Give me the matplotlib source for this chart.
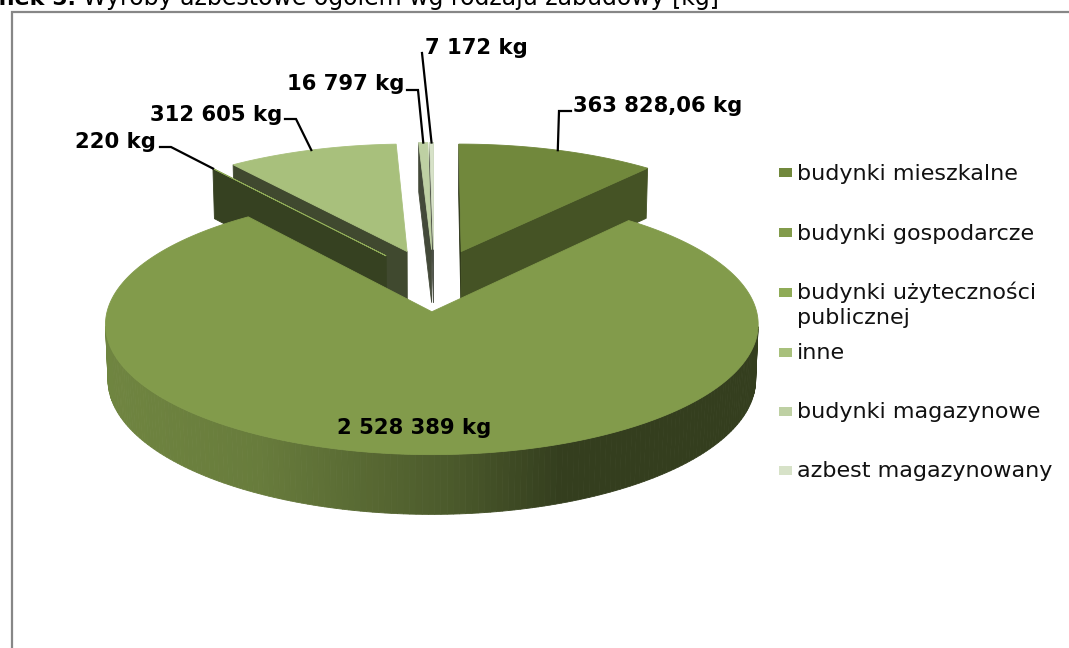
import numpy as np
import matplotlib.pyplot as plt
from matplotlib.patches import Polygon, Rectangle

# dane
categories = ['budynki mieszkalne', 'budynki gospodarcze',
              'budynki użyteczności\npublicznej', 'inne',
              'budynki magazynowe', 'azbest magazynowany']
values = [363828.06, 2528389, 220, 312605, 16797, 7172]
value_labels = ['363 828,06 kg', '2 528 389 kg', '220 kg',
                '312 605 kg', '16 797 kg', '7 172 kg']
colors = ['#71883C', '#829B4B', '#8FAB57', '#A8C07C', '#BED0A3', '#D7E2C8']

# geometria wykresu 3D (piksele)
CX, CY = 434, 280
R = 317.0
H = 59.0
EXPLODE = 80.0
phi = np.radians(22.8)
ce, se = np.cos(phi), np.sin(phi)
DIST = 3073.0
cam = np.array([0.0, -DIST * ce, DIST * se])


def proj(X, Y, Z):
    w = Y * ce - Z * se
    v = Y * se + Z * ce
    s = DIST / (DIST + w)
    return CX + X * s, CY - v * s


def to_rgb(c):
    c = c.lstrip('#')
    return np.array([int(c[i:i + 2], 16) for i in (0, 2, 4)]) / 255.0


def wall_shade(x):
    # gradient excela na scianie bocznej: jasno z lewej, ciemno z prawej
    return np.interp(x, [100, 260, 450, 560, 760], [0.86, 0.80, 0.58, 0.40, 0.40])


fig = plt.figure(figsize=(10.69, 6.48), dpi=100)
ax = fig.add_axes([0, 0, 1, 1])
ax.set_xlim(0, 1069)
ax.set_ylim(648, 0)
ax.axis('off')

total = sum(values)
angles = np.cumsum([0] + [v / total * 360 for v in values])

sides = []   # (glebokosc, punkty, kolor)
tops = []
anchors = []
for i, v in enumerate(values):
    a0, a1 = angles[i], angles[i + 1]
    mid = np.radians((a0 + a1) / 2)
    ox, oy = EXPLODE * np.sin(mid), EXPLODE * np.cos(mid)
    base = to_rgb(colors[i])
    n = max(2, int(np.ceil(a1 - a0)) + 1)
    th = np.radians(np.linspace(a0, a1, n))
    rx = ox + R * np.sin(th)
    ry = oy + R * np.cos(th)

    # wierzch
    pts = [proj(ox, oy, 0)] + [proj(x, y, 0) for x, y in zip(rx, ry)]
    depth = np.mean([np.linalg.norm(cam - np.array([x, y, 0])) for x, y in zip(rx, ry)])
    tops.append((depth, pts, base))

    # sciany promieniowe
    for ang, sign in ((a0, -1), (a1, 1)):
        t = np.radians(ang)
        nrm = np.array([np.sin(t + sign * np.pi / 2), np.cos(t + sign * np.pi / 2), 0])
        ex, ey = ox + R * np.sin(t), oy + R * np.cos(t)
        c3 = np.array([(ox + ex) / 2, (oy + ey) / 2, -H / 2])
        if np.dot(nrm, cam - c3) > 0:
            nang = np.arctan2(nrm[0], nrm[1])
            f = 0.50 + 0.15 * np.sin(nang)
            quad = [proj(ox, oy, 0), proj(ex, ey, 0), proj(ex, ey, -H), proj(ox, oy, -H)]
            sides.append((np.linalg.norm(cam - c3), quad, base * f))

    # sciana zewnetrzna
    for j in range(n - 1):
        tm = (th[j] + th[j + 1]) / 2
        p3 = np.array([ox + R * np.sin(tm), oy + R * np.cos(tm), -H / 2])
        nrm = np.array([np.sin(tm), np.cos(tm), 0])
        if np.dot(nrm, cam - p3) > 0:
            quad = [proj(rx[j], ry[j], 0), proj(rx[j + 1], ry[j + 1], 0),
                    proj(rx[j + 1], ry[j + 1], -H), proj(rx[j], ry[j], -H)]
            xm = np.mean([q[0] for q in quad])
            col = np.clip(base * wall_shade(xm), 0, 1)
            sides.append((np.linalg.norm(cam - p3), quad, col))

    anchors.append(proj(ox + R * np.sin(mid), oy + R * np.cos(mid), 0))

z = 1
for d, pts, col in sorted(sides, key=lambda s: -s[0]):
    ax.add_patch(Polygon(pts, closed=True, fc=col, ec=col, lw=0.6, zorder=z))
    z += 1
for d, pts, col in sorted(tops, key=lambda s: -s[0]):
    ax.add_patch(Polygon(pts, closed=True, fc=col, ec=col, lw=0.6, zorder=z))
    z += 1

# etykiety wartosci
lab_font = dict(fontsize=15.2, fontweight='bold', family='DejaVu Sans', color='black')
label_pos = [(573, 112), (414, 434), (75, 148), (150, 121), (287, 90), (425, 54)]
elbows = [[(571, 111), (559, 111)], None, [(160, 147), (171, 147)],
          [(285, 119), (296, 119)], [(407, 90), (418, 90)], [(422, 53)]]
for i, txt in enumerate(value_labels):
    ax.text(label_pos[i][0], label_pos[i][1], txt, ha='left' if i != 1 else 'center',
            va='baseline', zorder=500, **lab_font)
    if elbows[i] is not None:
        path = elbows[i] + [anchors[i]]
        ax.plot([p[0] for p in path], [p[1] for p in path], color='black',
                lw=1.6, zorder=499, solid_joinstyle='miter')

# legenda
rows = [172.5, 232.5, 292, 352, 411, 470]
for i, lab in enumerate(categories):
    ax.add_patch(Rectangle((779, rows[i] - 4.5), 13, 9, fc=colors[i], ec='none', zorder=500))
    for k, line in enumerate(lab.split('\n')):
        ax.text(797, rows[i] + 7 + 25 * k, line, ha='left', va='baseline',
                fontsize=16, family='DejaVu Sans', color='#111111', zorder=500)

# ramka
ax.plot([12, 12, 1069], [648, 12, 12], color='#878787', lw=1.6, zorder=600,
        solid_joinstyle='miter', clip_on=False)

# tytul (uciety u gory)
ax.text(76, 5, 'Rysunek 5.', ha='right', va='baseline', fontsize=16,
        fontweight='bold', family='DejaVu Sans', color='black')
ax.text(83, 5, 'Wyroby azbestowe ogółem wg rodzaju zabudowy [kg]', ha='left',
        va='baseline', fontsize=17, family='DejaVu Sans', color='black')

fig.savefig('out.png', dpi=100)
